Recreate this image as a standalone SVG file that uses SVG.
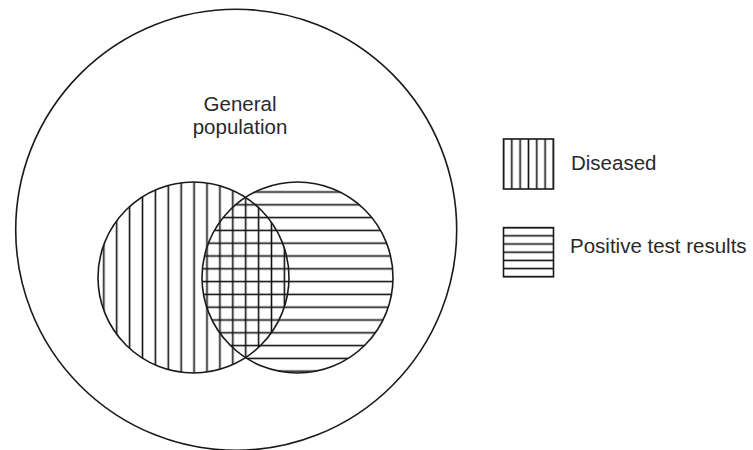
<svg xmlns="http://www.w3.org/2000/svg" width="753" height="450" viewBox="0 0 753 450">
  <style>
    .outline { fill: none; stroke: #1a1a1a; stroke-width: 1.6; }
    .hatch { stroke: #111; stroke-width: 1.6; }
    .label { font-family: "Liberation Sans", Arial, sans-serif; font-size: 20.5px; fill: #2a2a2a; }
  </style>
  <defs>
    <pattern id="vert" patternUnits="userSpaceOnUse" x="97.35" y="0" width="12.9" height="20">
      <line class="hatch" x1="6.45" y1="0" x2="6.45" y2="20"/>
    </pattern>
    <pattern id="horiz" patternUnits="userSpaceOnUse" x="0" y="185.6" width="20" height="12.8">
      <line class="hatch" x1="0" y1="6.4" x2="20" y2="6.4"/>
    </pattern>
    <pattern id="legV" patternUnits="userSpaceOnUse" x="499.3" y="0" width="8.33" height="20">
      <line class="hatch" x1="4.17" y1="0" x2="4.17" y2="20"/>
    </pattern>
    <pattern id="legH" patternUnits="userSpaceOnUse" x="0" y="223.5" width="20" height="8.2">
      <line class="hatch" x1="0" y1="4.1" x2="20" y2="4.1"/>
    </pattern>
  </defs>
  <rect width="753" height="450" fill="#ffffff"/>

  <g id="general-population">
    <circle class="outline" cx="236.2" cy="229.8" r="220.5"/>
    <text class="label" x="240" y="110.5" text-anchor="middle">General</text>
    <text class="label" x="240" y="133.5" text-anchor="middle">population</text>
  </g>

  <g id="diseased">
    <circle cx="193.5" cy="277.5" r="95.5" fill="url(#vert)"/>
  </g>
  <g id="positive-test">
    <circle cx="297.5" cy="277.5" r="95.5" fill="url(#horiz)"/>
  </g>
  <g id="circle-outlines">
    <circle class="outline" cx="193.5" cy="277.5" r="95.5"/>
    <circle class="outline" cx="297.5" cy="277.5" r="95.5"/>
  </g>

  <g id="legend-diseased">
    <rect x="503.5" y="139" width="50" height="50" fill="url(#legV)"/>
    <rect class="outline" x="503.5" y="139" width="50" height="50"/>
    <text class="label" x="571" y="170">Diseased</text>
  </g>
  <g id="legend-positive">
    <rect x="503.5" y="227.6" width="50" height="49.2" fill="url(#legH)"/>
    <rect class="outline" x="503.5" y="227.6" width="50" height="49.2"/>
    <text class="label" x="570" y="252.5">Positive test results</text>
  </g>

  <g id="connectors"></g>
</svg>
